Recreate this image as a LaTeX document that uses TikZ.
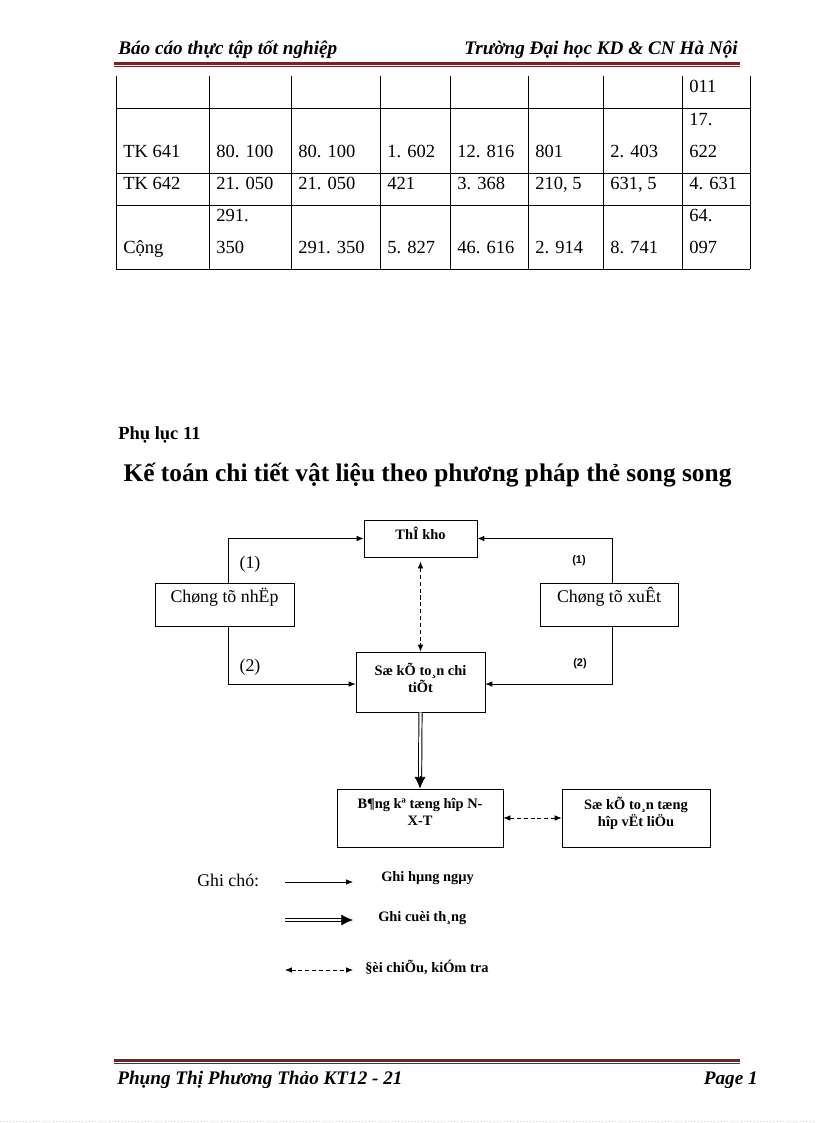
\documentclass[tikz,border=0pt]{standalone}
\usepackage{fontspec}
\setmainfont{Liberation Serif}
\newfontfamily\sansf{Liberation Sans}
\usetikzlibrary{arrows.meta,fit}
\definecolor{hdr}{RGB}{120,35,35}
\begin{document}
\begin{tikzpicture}[x=0.7292pt,y=-0.7292pt,
  box/.style={draw, line width=0.6pt, inner sep=0pt},
  cell/.style={anchor=base west, inner sep=0pt, font=\fontsize{13.5}{16}\selectfont},
  tl/.style={line width=0.6pt},
  arr/.style={line width=0.5pt, -{Latex[length=5pt,width=4pt]}},
  darr/.style={line width=0.5pt, dash pattern=on 3pt off 2pt, {Latex[length=5pt,width=4pt]}-{Latex[length=5pt,width=4pt]}},
  dblline/.style={double, double distance=1.6pt, line width=0.7pt, shorten >=6pt},
  dbltip/.style={line width=0.5pt, -{Latex[length=8.5pt,width=8pt]}},
  bt/.style={font=\bfseries\fontsize{10.5}{12.4}\selectfont, inner sep=0pt, align=center},
  rt/.style={font=\fontsize{13}{15}\selectfont, inner sep=0pt},
  hf/.style={font=\bfseries\itshape\fontsize{14}{16}\selectfont, inner sep=0pt},
]
\useasboundingbox (0,0) rectangle (816,1123);
\fill[white] (0,0) rectangle (816,1123);

% header
\node[hf, anchor=base west] (hleft) at (118,55) {Báo cáo thực tập tốt nghiệp};
\node[hf, anchor=base east] (hright) at (738,55) {Trường Đại học KD \& CN Hà Nội};
\draw[hdr, line width=2.2pt] (114,63.5) -- (740,63.5);
\draw[hdr, line width=0.7pt] (114,66.7) -- (740,66.7);

% table
\foreach \x in {116,209,291,380,450,528,603,682,750} \draw[tl] (\x,76) -- (\x,269);
\foreach \y in {108,173,205,269} \draw[tl] (116,\y) -- (750,\y);

\node[cell] (a18) at (689,93) {011};

\node[cell] (a21) at (123,158) {TK 641};
\node[cell] (a22) at (216,158) {80. 100};
\node[cell] (a23) at (298,158) {80. 100};
\node[cell] (a24) at (387,158) {1. 602};
\node[cell] (a25) at (457,158) {12. 816};
\node[cell] (a26) at (535,158) {801};
\node[cell] (a27) at (610,158) {2. 403};
\node[cell] (a28a) at (689,126) {17.};
\node[cell] (a28b) at (689,158) {622};

\node[cell] (a31) at (123,190) {TK 642};
\node[cell] (a32) at (216,190) {21. 050};
\node[cell] (a33) at (298,190) {21. 050};
\node[cell] (a34) at (387,190) {421};
\node[cell] (a35) at (457,190) {3. 368};
\node[cell] (a36) at (535,190) {210, 5};
\node[cell] (a37) at (610,190) {631, 5};
\node[cell] (a38) at (689,190) {4. 631};

\node[cell] (a41) at (123,254) {Cộng};
\node[cell] (a42a) at (216,222) {291.};
\node[cell] (a42b) at (216,254) {350};
\node[cell] (a43) at (298,254) {291. 350};
\node[cell] (a44) at (387,254) {5. 827};
\node[cell] (a45) at (457,254) {46. 616};
\node[cell] (a46) at (535,254) {2. 914};
\node[cell] (a47) at (610,254) {8. 741};
\node[cell] (a48a) at (689,222) {64.};
\node[cell] (a48b) at (689,254) {097};

% titles
\node[anchor=base west, inner sep=0pt, font=\bfseries\fontsize{13.5}{16}\selectfont] (phl) at (118,439) {Phụ lục 11};
\node[anchor=base, inner sep=0pt, font=\bfseries\fontsize{18.5}{22}\selectfont] (title) at (427.5,481) {Kế toán chi tiết vật liệu theo phương pháp thẻ song song};

% diagram boxes
\node[box, fit={(364,520) (477,557)}] (kho) {};
\node[bt, anchor=base] (khot) at (420.5,539) {ThÎ kho};
\node[box, rt, fit={(155,583) (294,626)}] (nhap) {Chøng tõ nhËp};
\node[box, rt, fit={(540,583) (678,626)}] (xuat) {Chøng tõ xuÊt};
\node[box, fit={(356,652) (485,712)}] (chitiet) {};
\node[bt, anchor=base] (chitiett) at (420.5,692) {Sæ kÕ to¸n chi\\tiÕt};
\node[box, fit={(337,789) (503,847)}] (bangke) {};
\node[bt, anchor=base, font=\bfseries\fontsize{10.5}{11.8}\selectfont] (bangket) at (420,825) {B¶ng kª tæng hîp N-\\X-T};
\node[box, fit={(562,789) (710,847)}] (tonghop) {};
\node[bt, anchor=base, font=\bfseries\fontsize{10.5}{11.8}\selectfont] (tonghopt) at (636,826) {Sæ kÕ to¸n tæng\\hîp vËt liÖu};

% connectors
\draw[arr] ([xshift=2.5pt]nhap.north) |- (kho.west);
\draw[arr] ([xshift=2.5pt]nhap.south) |- ([yshift=-1.5pt]chitiet.west);
\draw[arr] ([xshift=2.5pt]xuat.north) |- (kho.east);
\draw[arr] ([xshift=2.5pt]xuat.south) |- ([yshift=-1.5pt]chitiet.east);
\draw[darr, shorten <=3pt] (kho.south) -- (chitiet.north);
\draw[dblline] (chitiet.south) -- (bangke.north);
\draw[dbltip] ([yshift=9pt]bangke.north) -- (bangke.north);
\draw[darr] (bangke.east) -- (tonghop.west);

% labels
\node[rt] (l1) at (250,564) {(1)};
\node[rt] (l2) at (250,667) {(2)};
\node[inner sep=0pt, font=\sansf\bfseries\fontsize{8}{10}\selectfont] (r1) at (579,561) {(1)};
\node[inner sep=0pt, font=\sansf\bfseries\fontsize{8}{10}\selectfont] (r2) at (580,664) {(2)};

% legend
\node[rt, anchor=west] (ghichu) at (197,880) {Ghi chó:};
\coordinate (la1) at (285,882);
\coordinate (lb1) at (353,882);
\draw[arr] (la1) -- (lb1);
\node[bt, anchor=west] (lt1) at (381,878) {Ghi hµng ngµy};
\coordinate (la2) at (285,920);
\coordinate (lb2) at (353,920);
\coordinate (lc2) at (341,920);
\draw[dblline] (la2) -- (lb2);
\draw[dbltip] (lc2) -- (lb2);
\node[bt, anchor=west] (lt2) at (378,918) {Ghi cuèi th¸ng};
\coordinate (la3) at (285,970);
\coordinate (lb3) at (353,970);
\draw[darr] (la3) -- (lb3);
\node[bt, anchor=west] (lt3) at (365,967) {§èi chiÕu, kiÓm tra};

% footer
\draw[hdr, line width=2.2pt] (114,1060.5) -- (740,1060.5);
\draw[hdr, line width=0.7pt] (114,1063.7) -- (740,1063.7);
\node[hf, anchor=base west] (fleft) at (117,1084) {Phụng Thị Phương Thảo KT12 - 21};
\node[hf, anchor=base east] (fright) at (758,1084) {Page 1};
\draw[gray!40, dotted] (0,1121) -- (816,1121);
\end{tikzpicture}
\end{document}
